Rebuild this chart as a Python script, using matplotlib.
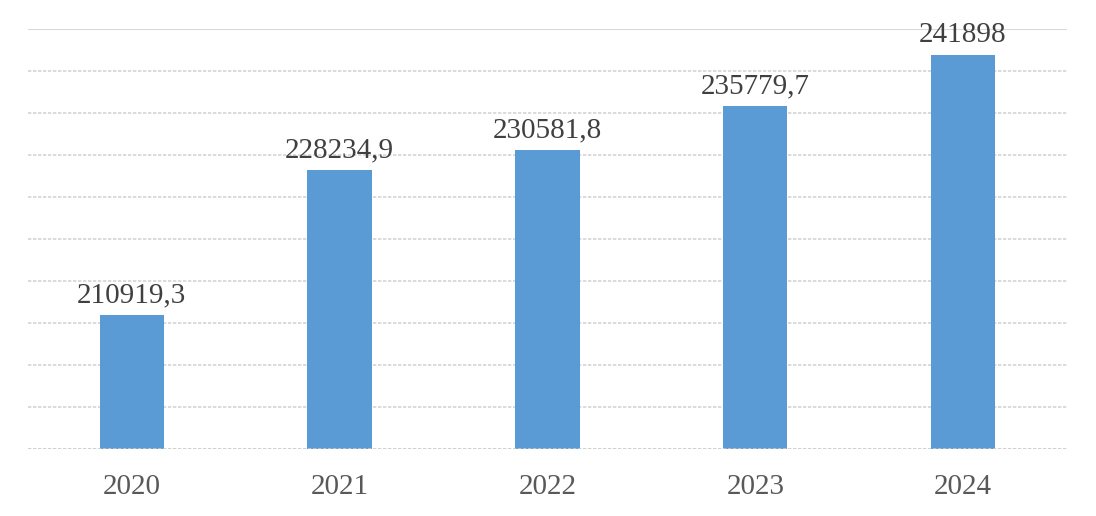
import numpy as np
import matplotlib
matplotlib.use("Agg")
from matplotlib import pyplot as plt

years = ["2020", "2021", "2022", "2023", "2024"]
values = [210919.3, 228234.9, 230581.8, 235779.7, 241898]
labels = ["210919,3", "228234,9", "230581,8", "235779,7", "241898"]

plt.rcParams['font.family'] = ['Liberation Serif', 'DejaVu Serif']

fig = plt.figure(figsize=(10.96, 5.16), dpi=100)
ax = fig.add_axes([0.0255, 0.1298, 0.948, 0.814])

x = np.arange(len(years))
ax.bar(x, values, width=0.31, color="#5B9BD5", zorder=3)

for xi, v, lab in zip(x, values, labels):
    ax.annotate(lab, (xi, v), xytext=(0, 5), textcoords="offset points",
                ha="center", va="bottom", fontsize=21, color="#404040", zorder=4)

ax.set_ylim(195000, 245000)
ax.set_xlim(-0.5, len(years) - 0.5)
ticks = np.arange(195000, 245001, 5000)
for t in ticks[1:-1]:
    ax.axhline(t, color="#d4d4d4", lw=1.2, ls=(0, (2, 1)), zorder=1)
ax.axhline(ticks[-1], color="#d9d9d9", lw=1.5, zorder=1)
ax.axhline(ticks[0], color="#c8c8c8", lw=1.2, ls=(0, (2, 1)), zorder=4)

ax.set_xticks(x)
ax.set_xticklabels(years, fontsize=21, color="#595959")
ax.tick_params(axis="x", length=0, pad=18)
ax.set_yticks([])
for s in ax.spines.values():
    s.set_visible(False)

fig.savefig("out.png", dpi=100)
